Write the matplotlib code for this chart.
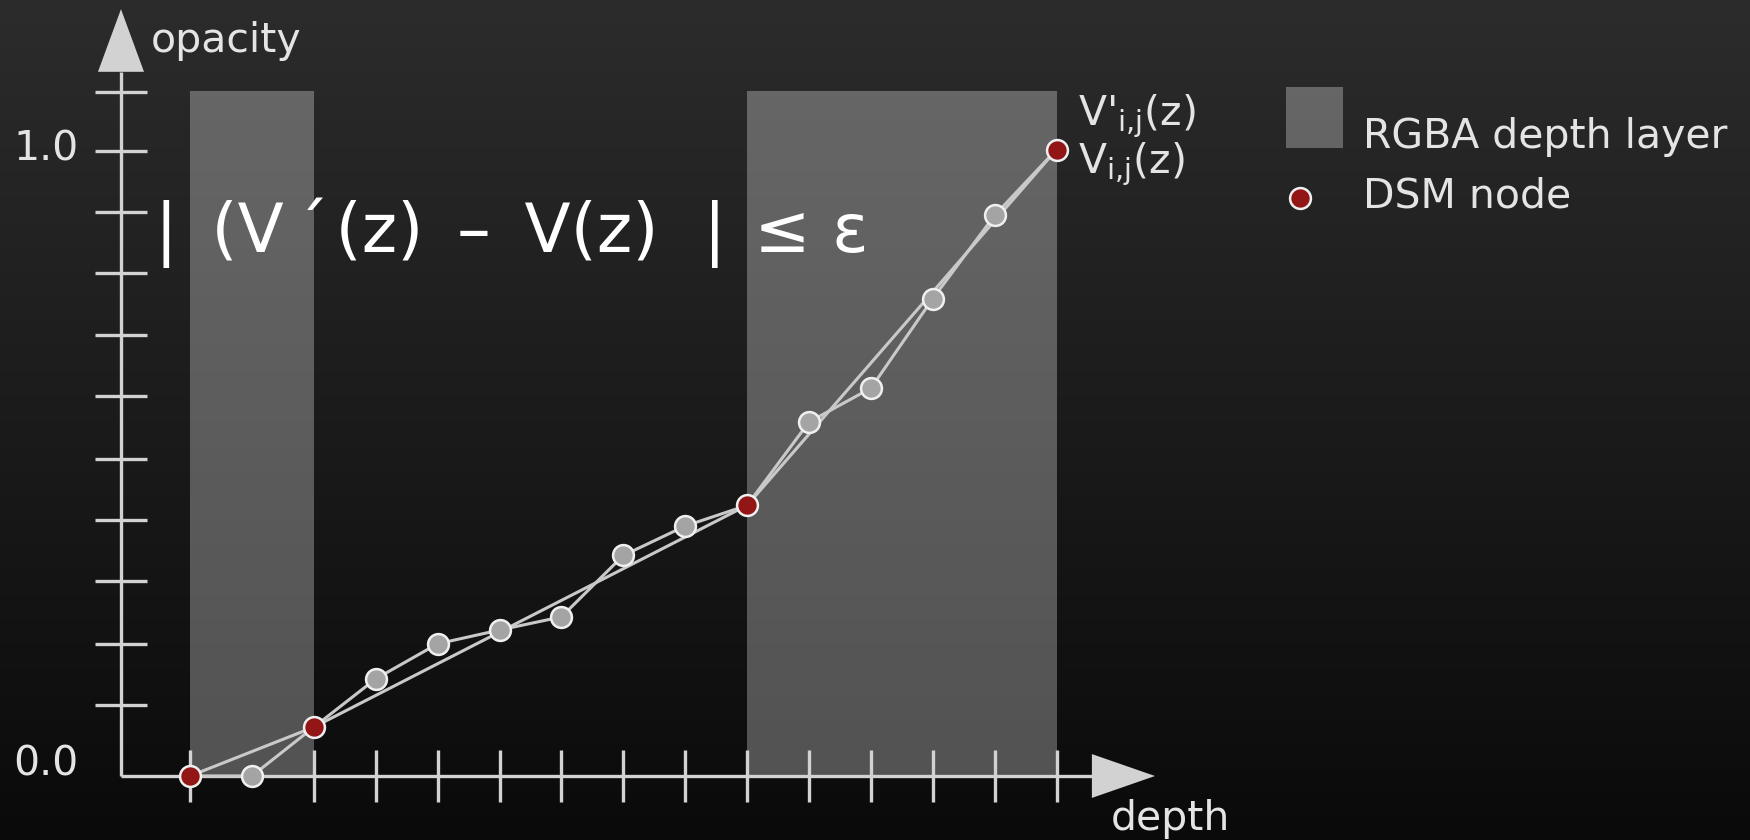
import numpy as np
import matplotlib
matplotlib.use("Agg")
import matplotlib.pyplot as plt
from matplotlib.patches import Rectangle, Polygon

# V'(z): opacity sampled on the depth grid
depth = [0, 1, 2, 3, 4, 5, 6, 7, 8, 9, 10, 11, 12, 13, 14]
opacity = [0.0, 0.0, 0.078, 0.155, 0.211, 0.233, 0.254, 0.352,
           0.399, 0.432, 0.565, 0.619, 0.762, 0.895, 1.0]
# samples kept as DSM nodes -> V(z)
dsm_nodes = [0, 2, 9, 14]
# RGBA depth layers, in depth units
layer_start = [0, 9]
layer_end = [2, 14]
layer_top = 1.094

xticks = [0, 2, 3, 4, 5, 6, 7, 8, 9, 10, 11, 12, 13, 14]
yticks = [0.113, 0.211, 0.311, 0.408, 0.506, 0.606, 0.704, 0.803, 0.900, 0.997, 1.092]
ylabels = ["0.0", "1.0"]
ylabel_vals = [0.0, 1.0]
legend_labels = ["RGBA depth layer", "DSM node"]

LINE = "#c9c9c9"
AXC = "#d2d2d2"
TXT = "#e4e4e4"
RED = "#921616"
FS = 29.5

fig = plt.figure(figsize=(17.5, 8.4), dpi=100)
ax = fig.add_axes([0, 0, 1, 1])
# data -> pixel: x = 190 + 61.9*k, y(top) = 776 - 626.5*v
xlim = (-190 / 61.9, (1750 - 190) / 61.9)
ylim = ((776 - 840) / 626.5, 776 / 626.5)
ax.axis("off")

# dark vertical gradient background
grad = np.linspace(0.172, 0.04, 256)[:, None]
ax.imshow(np.dstack([grad] * 3), extent=[*xlim, *ylim], origin="upper",
          aspect="auto", zorder=0, interpolation="bicubic")
ax.set_xlim(*xlim)
ax.set_ylim(*ylim)

# depth layers
for s, e in zip(layer_start, layer_end):
    ax.add_patch(Rectangle((s, 0), e - s, layer_top, facecolor="white",
                           alpha=0.29, lw=0, zorder=1))

# axes drawn by hand
x0 = -1.115
x_end, x_tip = 14.57, 15.59
y_end, y_tip = 1.124, 1.224
ax.plot([x0, x_end], [0, 0], color=AXC, lw=2.4, zorder=2, solid_capstyle="butt")
ax.plot([x0, x0], [0, y_end], color=AXC, lw=2.4, zorder=2, solid_capstyle="butt")
ax.add_patch(Polygon([[x_end, 0.035], [x_tip, 0], [x_end, -0.035]],
                     closed=True, color=AXC, lw=0, zorder=2))
ax.add_patch(Polygon([[x0 - 0.372, y_end], [x0, y_tip], [x0 + 0.372, y_end]],
                     closed=True, color=AXC, lw=0, zorder=2))
ax.vlines(xticks, -0.0415, 0.0415, color=AXC, lw=2.4, zorder=2)
ax.hlines(yticks, x0 - 0.42, x0 + 0.42, color=AXC, lw=2.4, zorder=2)

ax.text(-0.63, 1.1556, "opacity", color=TXT, fontsize=FS, va="baseline", ha="left")
ax.text(14.88, -0.0862, "depth", color=TXT, fontsize=FS, va="baseline", ha="left")
for lab, v, nudge in zip(ylabels, ylabel_vals, [0.018, 0.0]):
    ax.text(-1.8, v + nudge, lab, color=TXT, fontsize=FS, va="center", ha="right")

# V'(z) through every sample, V(z) through DSM nodes only
node_x = [depth[i] for i in dsm_nodes]
node_y = [opacity[i] for i in dsm_nodes]
ax.plot(depth, opacity, color=LINE, lw=2.2, zorder=3)
ax.plot(node_x, node_y, color=LINE, lw=2.2, zorder=3)
other = [i for i in range(len(depth)) if i not in dsm_nodes]
ax.plot([depth[i] for i in other], [opacity[i] for i in other], ls="none",
        marker="o", ms=15, mfc="#a4a4a4", mec="#f0f0f0", mew=1.8, zorder=4)
ax.plot(node_x, node_y, ls="none", marker="o", ms=15, mfc=RED,
        mec="#f0f0f0", mew=1.8, zorder=5)

ax.text(14.35, 1.039, r"V'$_\mathregular{i{,}j}$(z)", color=TXT, fontsize=FS,
        va="baseline", ha="left")
ax.text(14.35, 0.9625, r"V$_\mathregular{i{,}j}$(z)", color=TXT, fontsize=FS,
        va="baseline", ha="left")

ax.text(-0.565, 0.836,
        "|\u2002(V\u2006\u00b4\u200a(z)\u2002\u2013\u2002V(z)\u2002\u2006| \u200a\u2264 \u03b5",
        color="white", fontsize=48.5, va="baseline", ha="left", zorder=6)

# legend, laid out in axes fractions
lx, tx = 1286 / 1750, 1363 / 1750
ax.add_patch(Rectangle((lx, 1 - 148 / 840), 57 / 1750, 61 / 840,
                       transform=ax.transAxes, facecolor="white", alpha=0.29,
                       lw=0, zorder=6))
ax.plot([1300 / 1750], [1 - 198 / 840], transform=ax.transAxes, ls="none",
        marker="o", ms=15, mfc=RED, mec="#f0f0f0", mew=1.8, zorder=6)
for lab, base in zip(legend_labels, [148, 208]):
    ax.text(tx, 1 - base / 840, lab, transform=ax.transAxes, color=TXT,
            fontsize=FS, va="baseline", ha="left")

fig.savefig("out.png", dpi=100, facecolor="black")
